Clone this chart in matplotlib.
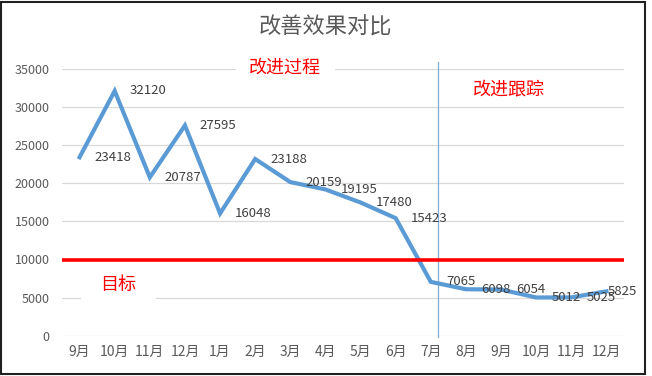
import matplotlib
matplotlib.use('Agg')
import matplotlib.pyplot as plt
from matplotlib.patches import Rectangle

plt.rcParams['font.family'] = ['Noto Sans CJK SC', 'DejaVu Sans']

# data
months = ['9月', '10月', '11月', '12月', '1月', '2月', '3月', '4月',
          '5月', '6月', '7月', '8月', '9月', '10月', '11月', '12月']
values = [23418, 32120, 20787, 27595, 16048, 23188, 20159, 19195,
          17480, 15423, 7065, 6098, 6054, 5012, 5025, 5825]
target = 10000
split_idx = 10          # 7月 (second one is tracking phase)
y_ticks = [0, 5000, 10000, 15000, 20000, 25000, 30000, 35000]

fig = plt.figure(figsize=(6.52, 3.76), dpi=100)
ax = fig.add_axes([62 / 652, 40.3 / 376, 562 / 652, 266.7 / 376])

x = list(range(len(months)))
ax.plot(x, values, color='#5B9BD5', lw=3, solid_joinstyle='miter', zorder=3)
ax.axhline(target, color='#FF0000', lw=2.6, zorder=4)
ax.plot([split_idx + 0.2, split_idx + 0.2], [-200, 35950], color='#7FAEDB',
        lw=0.9, clip_on=False, zorder=2)

# data labels, excel style: to the right of the point
for i, v in enumerate(values):
    dx = 1 if i == len(values) - 1 else 15
    ax.annotate(str(v), (i, v), xytext=(dx, 0), textcoords='offset pixels',
                ha='left', va='center', fontsize=9.5, color='#404040', zorder=5)

ax.set_xlim(-0.5, len(months) - 0.5)
ax.set_ylim(0, 35000)
ax.set_xticks(x)
ax.set_xticklabels(months)
ax.set_yticks(y_ticks)
ax.tick_params(axis='both', length=0, labelsize=9, labelcolor='#595959')
ax.tick_params(axis='x', labelsize=10, pad=7)
ax.tick_params(axis='y', pad=9)
ax.grid(axis='y', color='#D9D9D9', lw=0.9)
ax.set_axisbelow(True)
for s in ax.spines.values():
    s.set_visible(False)

ax.text(0.397, 1.004, '改进过程', transform=ax.transAxes, ha='center', va='center',
        fontsize=13, color='#FF0000',
        bbox=dict(boxstyle='square,pad=0.75', fc='white', ec='none'))
ax.text(0.795, 0.925, '改进跟踪', transform=ax.transAxes, ha='center', va='center',
        fontsize=13, color='#FF0000')
ax.text(0.1005, 0.19, '目标', transform=ax.transAxes, ha='center', va='center',
        fontsize=13, color='#FF0000',
        bbox=dict(boxstyle='square,pad=1.1', fc='white', ec='none'))

fig.text(325 / 652, 1 - 27 / 376, '改善效果对比', ha='center', va='center',
         fontsize=16, color='#595959')

fig.patches.append(Rectangle((1 / 652, 2 / 376), 644 / 652, 372 / 376,
                             transform=fig.transFigure, fill=False,
                             ec='#202020', lw=1.5))

fig.savefig('out.png', dpi=100)
